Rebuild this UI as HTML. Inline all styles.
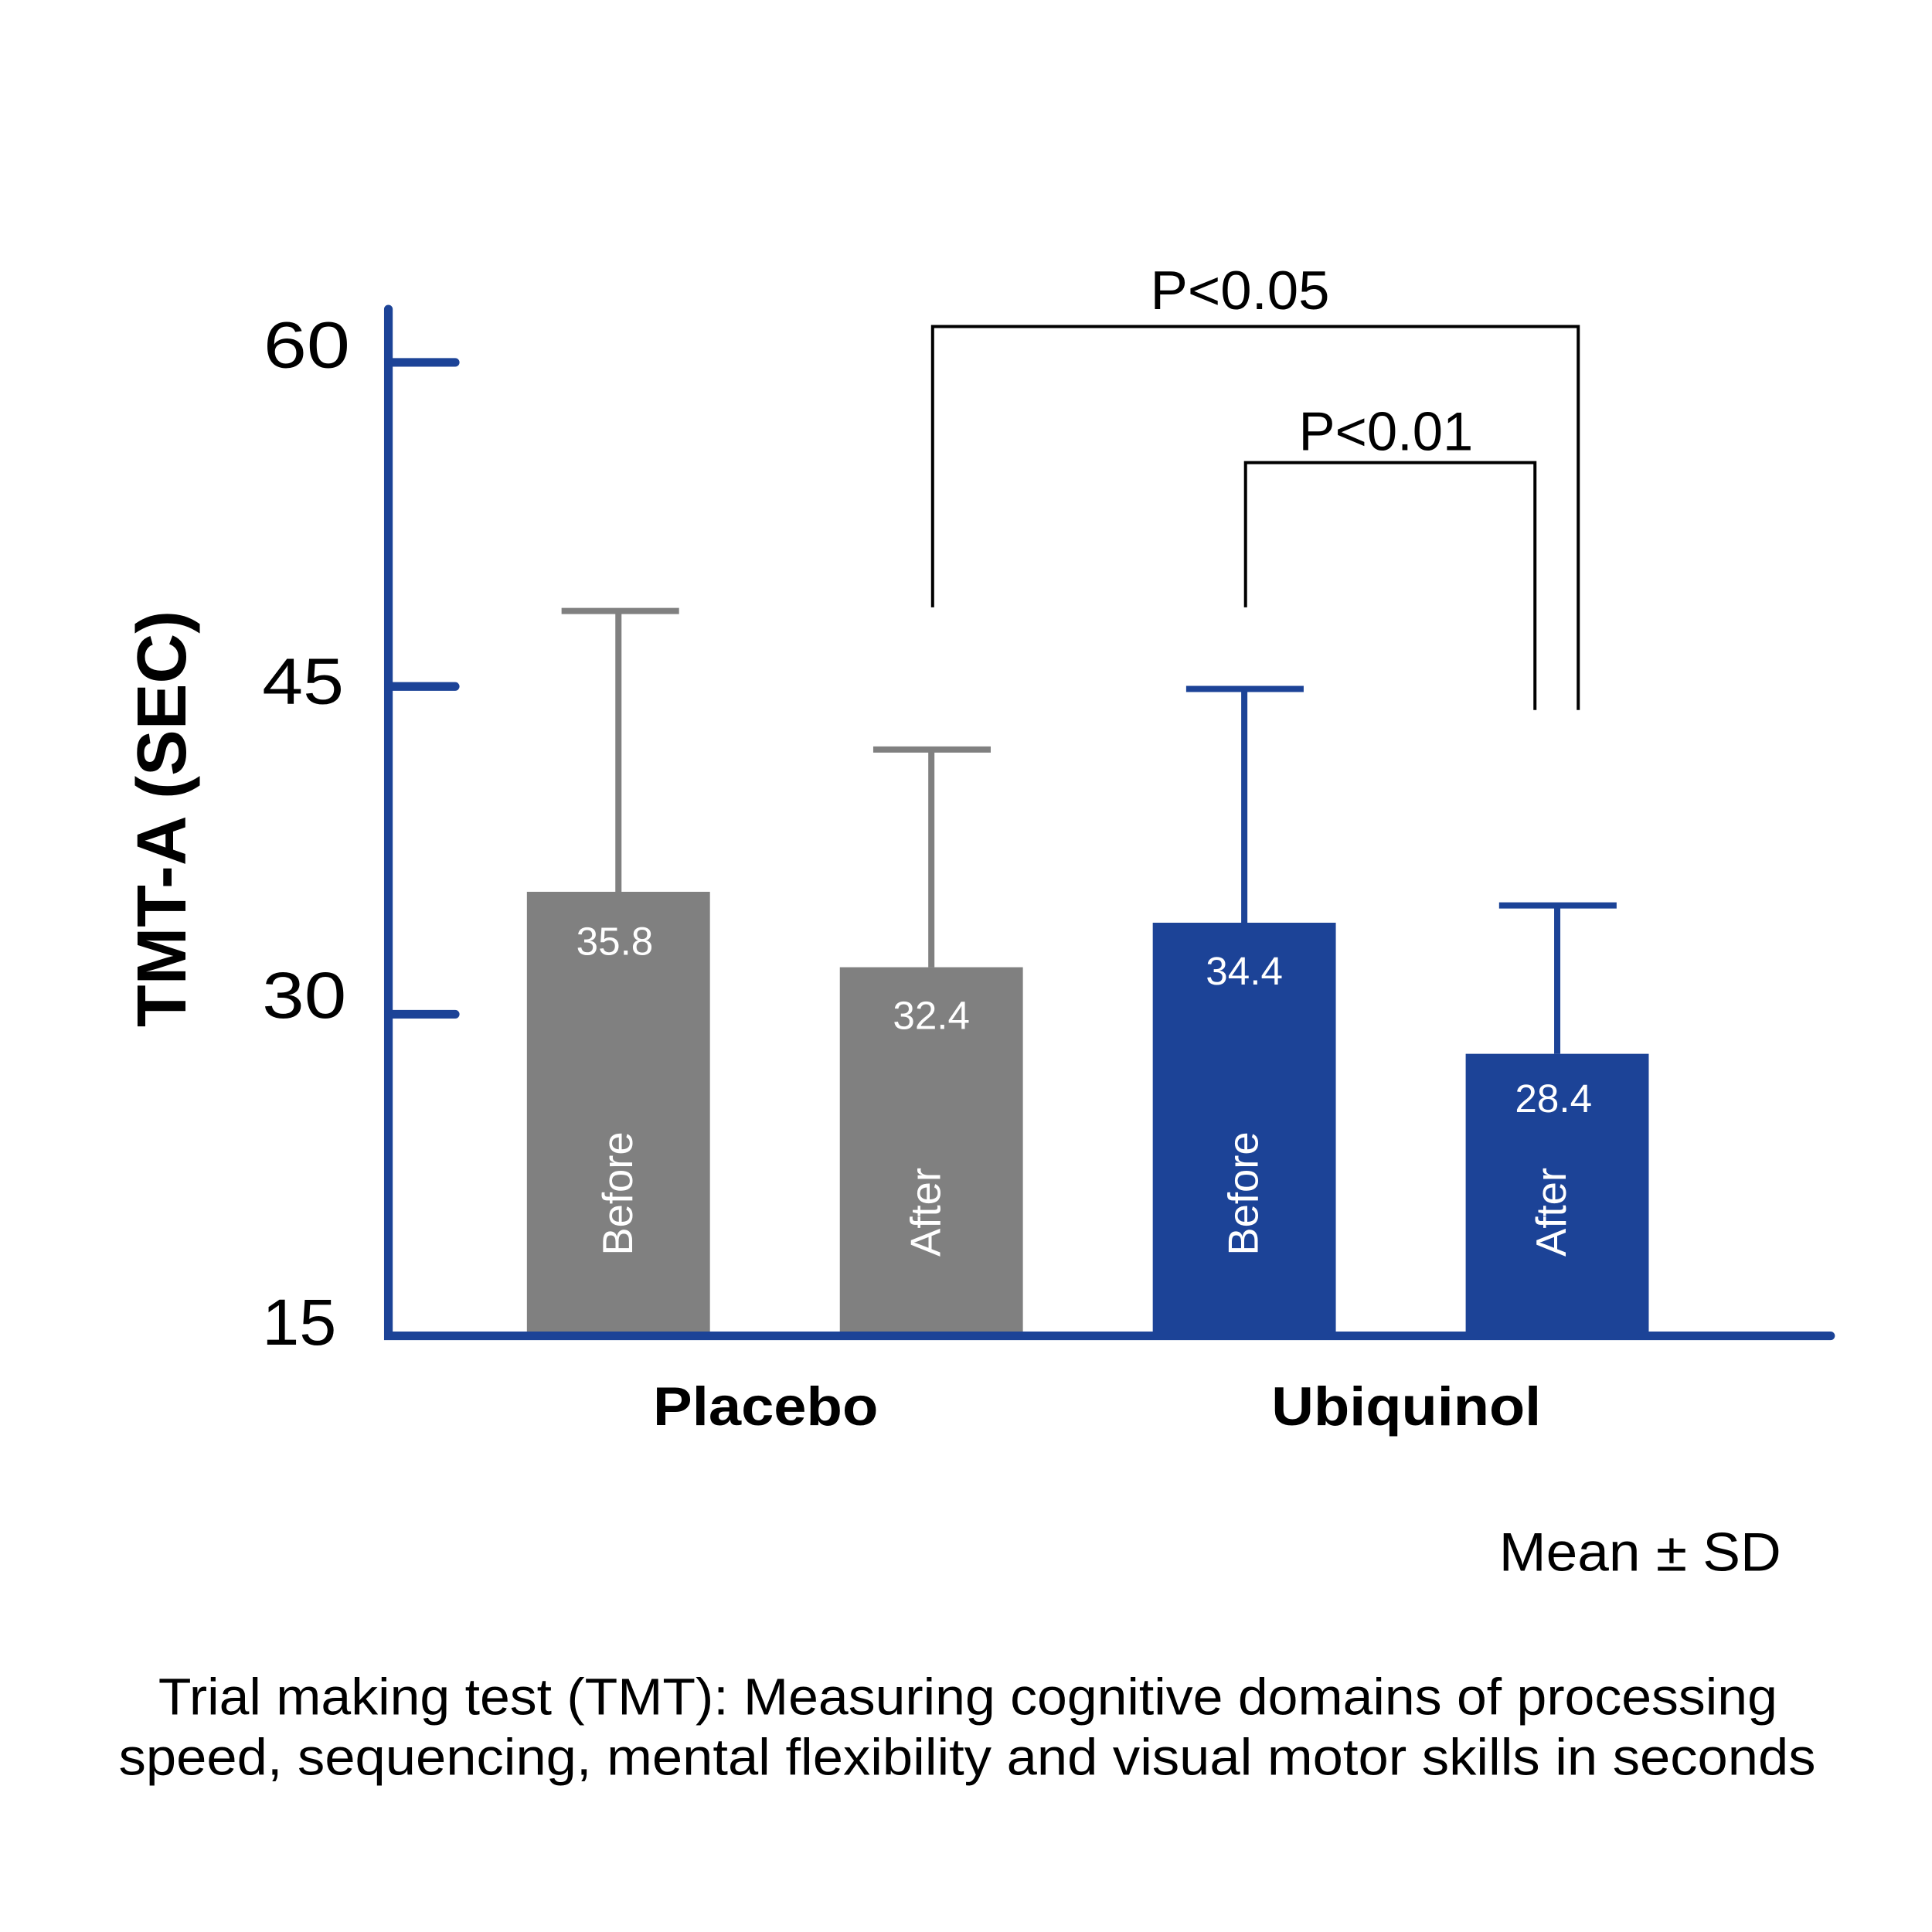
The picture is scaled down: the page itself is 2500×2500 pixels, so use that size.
<!DOCTYPE html>
<html><head><meta charset="utf-8"><style>
html,body{margin:0;padding:0;background:#fff}
svg{display:block}
text{font-family:"Liberation Sans",sans-serif}
</style></head><body>
<svg width="2500" height="2500" viewBox="0 0 1562 1562" xmlns="http://www.w3.org/2000/svg">
<rect width="1562" height="1562" fill="#fff"/>
<rect x="426" y="721" width="148" height="359" fill="#808080"/>
<rect x="679" y="782" width="148" height="298" fill="#808080"/>
<rect x="932" y="746" width="148" height="334" fill="#1c4397"/>
<rect x="1185" y="852" width="148" height="228" fill="#1c4397"/>
<g stroke-width="5" fill="none">
<path d="M500 721V494M454 494H549" stroke="#808080"/>
<path d="M753 782V606M706 606H801" stroke="#808080"/>
<path d="M1006 746V557M959 557H1054" stroke="#1c4397"/>
<path d="M1259 852V732M1212 732H1307" stroke="#1c4397"/>
</g>
<g stroke="#1c4397" stroke-width="7" stroke-linecap="round" fill="none">
<path d="M314 250V1080H1480"/>
<path d="M314 293H368M314 555H368M314 820H368"/>
</g>
<g font-size="53" fill="#000">
<text x="213" y="297" textLength="70" lengthAdjust="spacingAndGlyphs">60</text>
<text x="212" y="569" textLength="66" lengthAdjust="spacingAndGlyphs">45</text>
<text x="212" y="823" textLength="68" lengthAdjust="spacingAndGlyphs">30</text>
<text x="212" y="1087" textLength="60" lengthAdjust="spacingAndGlyphs">15</text>
</g>
<g font-size="32" fill="#fff" text-anchor="middle">
<text x="497" y="772">35.8</text>
<text x="753" y="832">32.4</text>
<text x="1006" y="796">34.4</text>
<text x="1256" y="899">28.4</text>
</g>
<g font-size="34" fill="#fff" text-anchor="middle">
<text transform="translate(511,965) rotate(-90)">Before</text>
<text transform="translate(760,980) rotate(-90)">After</text>
<text transform="translate(1017,965) rotate(-90)">Before</text>
<text transform="translate(1266,980) rotate(-90)">After</text>
</g>
<g stroke="#000" stroke-width="2.5" fill="none">
<path d="M754 491V264H1276V574"/>
<path d="M1007 491V374H1241V574"/>
</g>
<g font-size="44" fill="#000">
<text x="930" y="250" textLength="145" lengthAdjust="spacingAndGlyphs">P&lt;0.05</text>
<text x="1050" y="364" textLength="141" lengthAdjust="spacingAndGlyphs">P&lt;0.01</text>
</g>
<text transform="translate(150,662) rotate(-90)" font-size="56" font-weight="bold" text-anchor="middle">TMT-A (SEC)</text>
<g font-size="44" font-weight="bold">
<text x="528" y="1152" textLength="182" lengthAdjust="spacingAndGlyphs">Placebo</text>
<text x="1028" y="1152" textLength="218" lengthAdjust="spacingAndGlyphs">Ubiquinol</text>
</g>
<text x="1212" y="1270" font-size="44" textLength="228" lengthAdjust="spacingAndGlyphs">Mean ± SD</text>
<g font-size="42">
<text x="128" y="1386" textLength="1309" lengthAdjust="spacingAndGlyphs">Trial making test (TMT): Measuring cognitive domains of processing</text>
<text x="96" y="1435" textLength="1372" lengthAdjust="spacingAndGlyphs">speed, sequencing, mental flexibility and visual motor skills in seconds</text>
</g>
</svg>
</body></html>
